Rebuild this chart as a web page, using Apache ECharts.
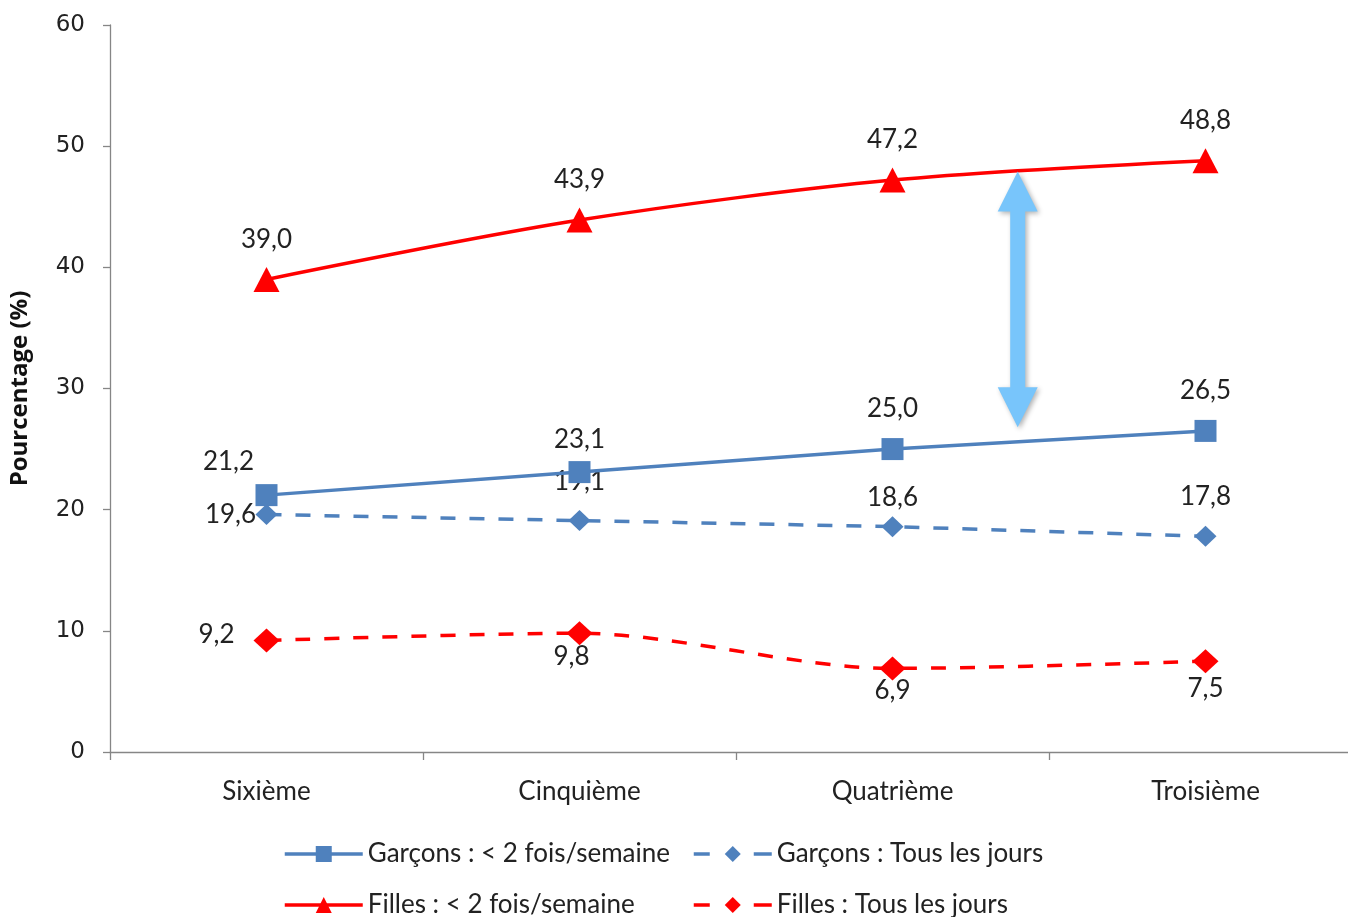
<!DOCTYPE html>
<html>
<head>
<meta charset="utf-8">
<style>
  html, body { margin: 0; padding: 0; background: #fff; overflow: hidden; }
  #chart { width: 1362px; height: 917px; }
</style>
<script src="https://cdn.jsdelivr.net/npm/echarts@6/dist/echarts.min.js"></script>
</head>
<body>
<div id="chart"></div>
<script>
// School years (x categories)
const categories = ['Sixième', 'Cinquième', 'Quatrième', 'Troisième'];

// Percentages per group
const garconsMoins2 = [21.2, 23.1, 25.0, 26.5];
const garconsTousJours = [19.6, 19.1, 18.6, 17.8];
const fillesMoins2 = [39.0, 43.9, 47.2, 48.8];
const fillesTousJours = [9.2, 9.8, 6.9, 7.5];

// Y axis range
const yTicks = { min: 0, max: 60, interval: 10 };

// Double-headed arrow showing the gap between girls and boys (< 2 times/week)
const gapArrow = { position: 2.4, from: 26.8, to: 47.9 };

const BLUE = '#4F81BD';
const RED = '#FF0000';
const LABEL_FONT = 'Lato, "Open Sans", sans-serif';

function fmt(v) { return v.toFixed(1).replace('.', ','); }

// Per-point label offsets [dx, dy] relative to the marker centre
function labelled(values, offsets) {
  return values.map((v, i) => ({
    value: v,
    label: { offset: offsets[i] }
  }));
}

const baseLabel = {
  show: true,
  position: 'inside',
  formatter: p => fmt(p.value),
  fontFamily: LABEL_FONT,
  fontSize: 26,
  color: '#222'
};

// One legend box per entry so the two columns line up
function legendItem(name, left, top, dashed) {
  const lineStyle = { width: 3.5 };
  if (dashed) lineStyle.type = [16, 44, 18];
  return {
    orient: 'horizontal',
    left: left, top: top,
    padding: 0,
    itemWidth: 78, itemHeight: 20,
    data: [name],
    lineStyle: lineStyle,
    textStyle: { fontFamily: LABEL_FONT, fontSize: 26, color: '#222', lineHeight: 30 }
  };
}

const chart = echarts.init(document.getElementById('chart'), null, { renderer: 'canvas' });

chart.setOption({
  animation: false,
  backgroundColor: '#fff',
  grid: { left: 108, right: 0, top: 25, bottom: 165, containLabel: false },
  xAxis: [
    {
      type: 'category',
      data: categories,
      boundaryGap: true,
      axisLine: { lineStyle: { color: '#868686', width: 1.3 } },
      axisTick: { show: true, length: 8, lineStyle: { color: '#868686', width: 1.3 } },
      axisLabel: { margin: 27, fontFamily: LABEL_FONT, fontSize: 26, color: '#222' },
      splitLine: { show: false }
    },
    {
      type: 'value', min: -0.5, max: 3.5, show: false
    }
  ],
  yAxis: {
    type: 'value',
    min: yTicks.min, max: yTicks.max, interval: yTicks.interval,
    name: 'Pourcentage (%)',
    nameLocation: 'middle',
    nameGap: 78,
    nameTextStyle: { fontFamily: '"Open Sans", Lato, sans-serif', fontWeight: 'bold', fontSize: 24, color: '#111' },
    axisLine: { show: true, onZero: false, lineStyle: { color: '#868686', width: 1.3 } },
    axisTick: { show: true, length: 7, lineStyle: { color: '#868686', width: 1.3 } },
    axisLabel: { margin: 25, fontFamily: '"DejaVu Sans", Verdana, sans-serif', fontSize: 23, color: '#222' },
    splitLine: { show: false }
  },
  legend: [
    legendItem('Garçons : < 2 fois/semaine', 283, 839, false),
    legendItem('Garçons : Tous les jours', 692, 839, true),
    legendItem('Filles : < 2 fois/semaine', 283, 890, false),
    legendItem('Filles : Tous les jours', 692, 890, true)
  ],
  series: [
    {
      name: 'Garçons : < 2 fois/semaine',
      type: 'line',
      data: labelled(garconsMoins2, [[-38, -34], [0, -32], [0, -40], [0, -40]]),
      symbol: 'rect', symbolSize: 22,
      itemStyle: { color: BLUE },
      lineStyle: { color: BLUE, width: 3.5 },
      label: baseLabel,
      z: 3
    },
    {
      name: 'Garçons : Tous les jours',
      type: 'line',
      data: labelled(garconsTousJours, [[-36, 0], [0, -39], [0, -29], [0, -40]]),
      symbol: 'diamond', symbolSize: [22, 21],
      itemStyle: { color: BLUE },
      lineStyle: { color: BLUE, width: 3.5, type: [15, 14] },
      label: baseLabel,
      z: 2
    },
    {
      name: 'Filles : < 2 fois/semaine',
      type: 'line',
      smooth: 0.3,
      data: labelled(fillesMoins2, [[0, -40], [0, -40], [0, -40], [0, -40]]),
      symbol: 'triangle', symbolSize: [26, 25],
      itemStyle: { color: RED },
      lineStyle: { color: RED, width: 3.5 },
      label: baseLabel,
      z: 3
    },
    {
      name: 'Filles : Tous les jours',
      type: 'line',
      smooth: 0.3,
      data: labelled(fillesTousJours, [[-50, -6], [-8, 23], [0, 22], [0, 27]]),
      symbol: 'diamond', symbolSize: [26, 24],
      itemStyle: { color: RED },
      lineStyle: { color: RED, width: 3.5, type: [15, 14] },
      label: baseLabel,
      z: 2
    },
    {
      name: 'gap',
      type: 'custom',
      xAxisIndex: 1,
      silent: true,
      z: 5,
      data: [[gapArrow.position, gapArrow.from, gapArrow.to]],
      renderItem: function (params, api) {
        const top = api.coord([api.value(0), api.value(2)]);
        const bot = api.coord([api.value(0), api.value(1)]);
        const x = top[0];
        const headH = 40, headW = 20, shaftW = 7.5;
        const t = top[1], b = bot[1];
        const pts = [
          [x, t],
          [x + headW, t + headH],
          [x + shaftW, t + headH],
          [x + shaftW, b - headH],
          [x + headW, b - headH],
          [x, b],
          [x - headW, b - headH],
          [x - shaftW, b - headH],
          [x - shaftW, t + headH],
          [x - headW, t + headH]
        ];
        return {
          type: 'polygon',
          shape: { points: pts },
          style: {
            fill: '#78C5FB',
            shadowBlur: 5,
            shadowColor: 'rgba(0,0,0,0.3)',
            shadowOffsetX: 2,
            shadowOffsetY: 2
          }
        };
      }
    }
  ]
});
</script>
</body>
</html>
